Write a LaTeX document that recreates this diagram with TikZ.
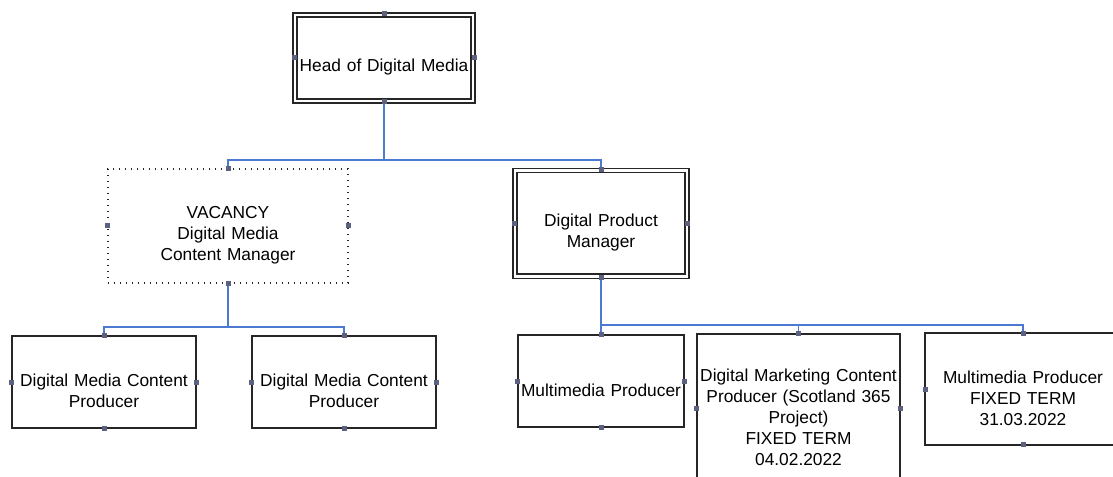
\documentclass[tikz,border=0pt]{standalone}
\usepackage{fontspec}
\setmainfont{Liberation Sans}
\usepackage{tikz}
\definecolor{box grey}{rgb}{0.15, 0.15, 0.15}
\definecolor{report blue}{rgb}{0.30, 0.48, 0.82}
\definecolor{grip grey}{rgb}{0.36, 0.38, 0.50}

\tikzset{
	role/.style = {draw = box grey, line width = 1.3pt, fill = white, inner xsep = 0pt, align = center,
		font = \fontsize{13pt}{15.75pt}\selectfont, execute at begin node = \rule{0pt}{23pt}},
	lead role/.style = {role, line width = 1.2pt, double = white, double distance = 1.8pt},
	open role/.style = {role, line width = 1.1pt, dash pattern = on 1.1pt off 3.4pt, execute at begin node = {}},
	boxsize/.style 2 args = {minimum width = #1, text width = #1, minimum height = #2},
	report/.style = {draw = report blue, line width = 1.4pt},
	grip/.style = {fill = grip grey}
}

\begin{document}
\begin{tikzpicture}[x = 0.75pt, y = -0.75pt]
		\useasboundingbox (0, 0) rectangle (1113, 477);
		\clip (0, 0) rectangle (1113, 477);
		% top
		\node[lead role, boxsize = {133.8pt}{64.8pt}] (head) at (384, 58) {Head of Digital Media};
		% second row
		\node[open role, boxsize = {180pt}{85.5pt}] (vacancy) at (228, 226) {VACANCY\\Digital Media\\Content Manager};
		\node[lead role, boxsize = {128.7pt}{79.2pt}] (product) at (601, 223.5) {Digital Product\\Manager};
		% left team
		\node[role, boxsize = {138pt}{69pt}] (producera) at (104, 382) {Digital Media Content\\Producer};
		\node[role, boxsize = {138pt}{69pt}] (producerb) at (344, 382) {Digital Media Content\\Producer};
		% right team
		\node[role, boxsize = {124.5pt}{69pt}] (multimedia) at (601, 381) {Multimedia Producer};
		\node[role, boxsize = {152.25pt}{111pt}] (marketing) at (798.5, 408)
			{Digital Marketing Content\\Producer (Scotland 365\\Project)\\FIXED TERM\\04.02.2022};
		\node[role, draw = none, boxsize = {145.5pt}{82.5pt}] (fixedterm) at (1023, 389) {Multimedia Producer\\FIXED TERM\\31.03.2022};
		% last box runs off the right edge
		\draw[box grey, line width = 1.3pt] (fixedterm.north east) -- (fixedterm.north west)
			-- (fixedterm.south west) -- (fixedterm.south east);
		% reporting lines
		\coordinate (topbus) at (384, 160);
		\coordinate (leftbus) at (228, 327);
		\coordinate (rightbus) at (601, 325);
		\draw[report] (head.south) -- (topbus) -| (vacancy.north);
		\draw[report] (topbus) -| (product.north);
		\draw[report] (vacancy.south) -- (leftbus) -| (producera.north);
		\draw[report] (leftbus) -| (producerb.north);
		\draw[report] (product.south) -- (multimedia.north);
		\draw[report] (rightbus) -| (marketing.north);
		\draw[report] (rightbus) -| (fixedterm.north);
		% grips
		\foreach \n in {head, vacancy, product, producera, producerb, multimedia, marketing, fixedterm}
			\foreach \a in {north, south, east, west}
				\fill[grip] (\n.\a) ++(-2.5, -2.5) rectangle ++(5, 5);
	\end{tikzpicture}
\end{document}
